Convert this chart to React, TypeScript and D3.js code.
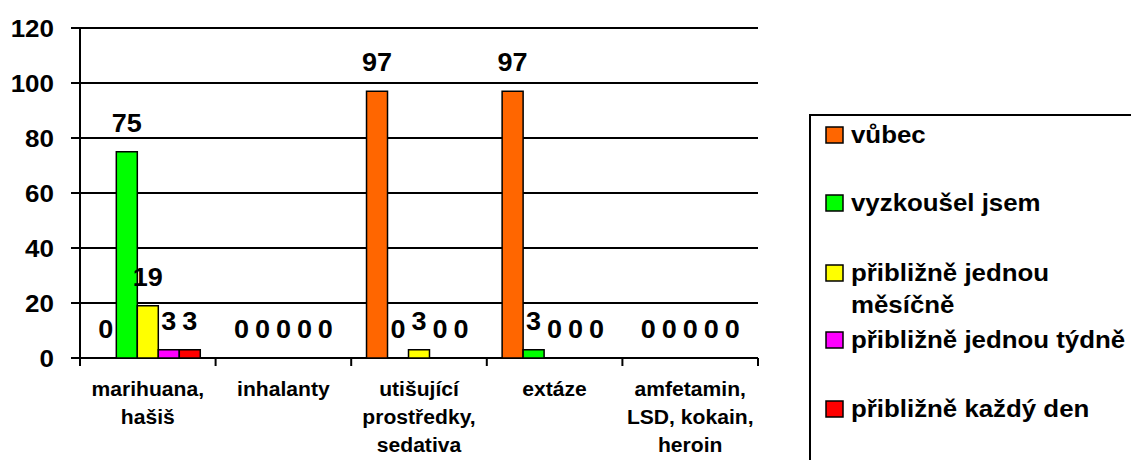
import React, { useEffect, useRef } from 'react';
import * as d3 from 'd3';

// categories (x axis), with line breaks as in the original
const categories = [
  ['marihuana,', 'hašiš'],
  ['inhalanty'],
  ['utišující', 'prostředky,', 'sedativa'],
  ['extáze'],
  ['amfetamin,', 'LSD, kokain,', 'heroin'],
];

const seriesNames = [
  ['vůbec'],
  ['vyzkoušel jsem'],
  ['přibližně jednou', 'měsíčně'],
  ['přibližně jednou týdně'],
  ['přibližně každý den'],
];
const seriesColors = ['#FF6600', '#00FF00', '#FFFF00', '#FF00FF', '#FF0000'];

// values per series, one per category
const vubec = [0, 0, 97, 97, 0];
const vyzkousel = [75, 0, 0, 3, 0];
const mesicne = [19, 0, 3, 0, 0];
const tydne = [3, 0, 0, 0, 0];
const denne = [3, 0, 0, 0, 0];
const seriesValues = [vubec, vyzkousel, mesicne, tydne, denne];

const yTicks = [0, 20, 40, 60, 80, 100, 120];

const FONT = '"Liberation Sans", Arial, sans-serif';

const App = () => {
  const ref = useRef<SVGSVGElement | null>(null);

  useEffect(() => {
    const svg = d3.select(ref.current);
    svg.selectAll('*').remove();

    var left = 80, right = 758, top = 28, bottom = 358;

    var x0 = d3.scaleBand<number>()
      .domain(categories.map((_, i) => i))
      .range([left, right])
      .padding(0);
    var inner = x0.bandwidth() * 0.113;
    var x1 = d3.scaleBand<number>()
      .domain(seriesValues.map((_, i) => i))
      .range([inner, x0.bandwidth() - inner])
      .padding(0);
    var y = d3.scaleLinear().domain([0, 120]).range([bottom, top]);

    // text helper, slightly stretched horizontally like the original
    function txt(g, x, yy, s, size, sx, anchor) {
      return g.append('text')
        .attr('transform', 'translate(' + x + ',' + yy + ') scale(' + sx + ',1)')
        .attr('text-anchor', anchor)
        .attr('font-family', FONT)
        .attr('font-weight', 'bold')
        .attr('font-size', size)
        .attr('fill', '#000')
        .text(s);
    }

    // gridlines
    svg.append('g').selectAll('line')
      .data(yTicks)
      .enter().append('line')
      .attr('x1', left - 9).attr('x2', right)
      .attr('y1', d => y(d)).attr('y2', d => y(d))
      .attr('stroke', '#000').attr('stroke-width', 2);

    // y axis line
    svg.append('line')
      .attr('x1', left).attr('x2', left)
      .attr('y1', top).attr('y2', bottom + 8)
      .attr('stroke', '#000').attr('stroke-width', 2);

    // x ticks at category boundaries
    var bounds = categories.map((_, i) => x0(i)).concat([right]);
    svg.append('g').selectAll('line')
      .data(bounds)
      .enter().append('line')
      .attr('x1', d => d).attr('x2', d => d)
      .attr('y1', bottom).attr('y2', bottom + 8)
      .attr('stroke', '#000').attr('stroke-width', 2);

    // y tick labels
    var yl = svg.append('g');
    yTicks.forEach(t => txt(yl, 54, y(t) + 9, String(t), 24.5, 1.06, 'end'));

    // bars
    seriesValues.forEach((vals, s) => {
      svg.append('g').selectAll('rect')
        .data(vals)
        .enter().append('rect')
        .attr('x', (d, i) => x0(i) + x1(s))
        .attr('y', d => y(d))
        .attr('width', x1.bandwidth())
        .attr('height', d => bottom - y(d))
        .attr('fill', seriesColors[s])
        .attr('stroke', '#000')
        .attr('stroke-width', 1.5);
    });

    // data labels
    var dl = svg.append('g');
    seriesValues.forEach((vals, s) => {
      vals.forEach((v, i) => {
        txt(dl, x0(i) + x1(s) + x1.bandwidth() / 2, y(v) - 20, String(v), 26.5, 1.02, 'middle');
      });
    });

    // category labels
    var cl = svg.append('g');
    categories.forEach((lines, i) => {
      lines.forEach((ln, k) => {
        txt(cl, x0(i) + x0.bandwidth() / 2, 396 + k * 28, ln, 20.5, 1.03, 'middle');
      });
    });

    // legend
    var lg = svg.append('g');
    lg.append('rect')
      .attr('x', 810).attr('y', 115)
      .attr('width', 400).attr('height', 400)
      .attr('fill', '#fff').attr('stroke', '#000').attr('stroke-width', 2);
    var legendY = [143, 211, 281, 348, 417];
    seriesNames.forEach((lines, s) => {
      lg.append('rect')
        .attr('x', 826).attr('y', legendY[s] - 16)
        .attr('width', 17).attr('height', 16)
        .attr('fill', seriesColors[s])
        .attr('stroke', '#000').attr('stroke-width', 1.5);
      lines.forEach((ln, k) => {
        txt(lg, 851, legendY[s] + k * 32, ln, 23.5, 1.1, 'start');
      });
    });
  }, []);

  return (
    <svg ref={ref} width={1131} height={460}
      style={{ position: 'absolute', left: 0, top: 0, background: '#fff' }} />
  );
};

export default App;
